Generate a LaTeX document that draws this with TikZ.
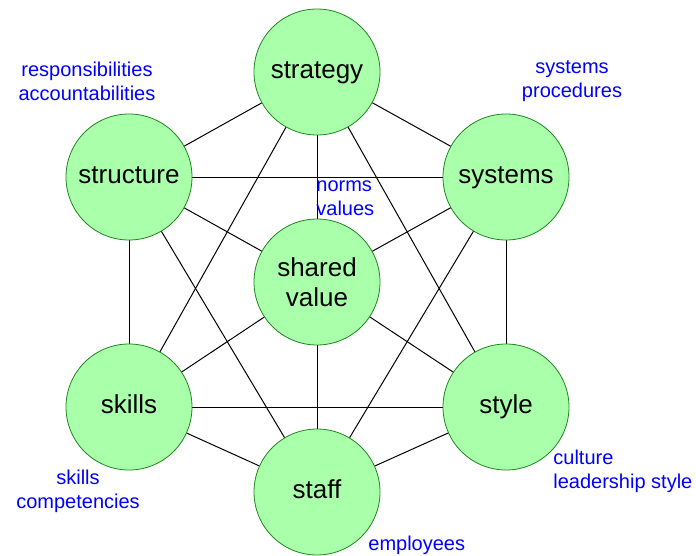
\documentclass[tikz,border=0pt]{standalone}
\usepackage{fontspec}
\setmainfont{Liberation Sans}
\usetikzlibrary{positioning,backgrounds}
\definecolor{leafgreen}{RGB}{170,255,170}
\definecolor{rimgreen}{RGB}{30,135,30}
\tikzstyle{sfactor}=[circle, draw=rimgreen, fill=leafgreen, minimum size=63pt, inner sep=0pt,
        text centered, align=center, text=black, font=\fontsize{13}{15}\selectfont]
\tikzstyle{oneline}=[sfactor, text height=9.4pt, text depth=2.7pt]
\tikzstyle{note}=[text=blue, inner sep=0pt, font=\fontsize{10}{12}\selectfont]
\tikzstyle{link}=[draw=black, line width=0.5pt]

\begin{document}
\begin{tikzpicture}[x=0.5pt,y=-0.5pt]
\useasboundingbox (0,0) rectangle (696,556);
\node[oneline] (strategy) at (317,72) {strategy};
\node[oneline] (structure) at (129,177) {structure};
\node[oneline] (systems) at (506,177) {systems};
\node[sfactor] (shared) at (317,282) {shared\\value};
\node[oneline] (skills) at (129,407) {skills};
\node[oneline] (style) at (506,407) {style};
\node[oneline] (staff) at (317,492) {staff};
\begin{pgfonlayer}{background}
\foreach \a/\b in {strategy/structure,strategy/systems,strategy/shared,strategy/skills,strategy/style,
        structure/systems,structure/shared,structure/skills,structure/staff,
        systems/shared,systems/style,systems/staff,
        shared/skills,shared/style,shared/staff,
        skills/style,skills/staff,style/staff}
  \draw[link] (\a.center) -- (\b.center);
\end{pgfonlayer}
\node[note, align=center] (resp) at (87,81) {responsibilities\\accountabilities};
\node[note, align=center] (proc) at (572,81) {systems\\procedures};
\node[note, align=left, anchor=west] (norms) at (316,198) {norms\\values};
\node[note, align=center] (comp) at (78,491) {skills\\competencies};
\node[note, align=left, anchor=west] (culture) at (553,471) {culture\\leadership style};
\node[note, anchor=west] (empl) at (368,545) {employees};
\end{tikzpicture}
\end{document}
